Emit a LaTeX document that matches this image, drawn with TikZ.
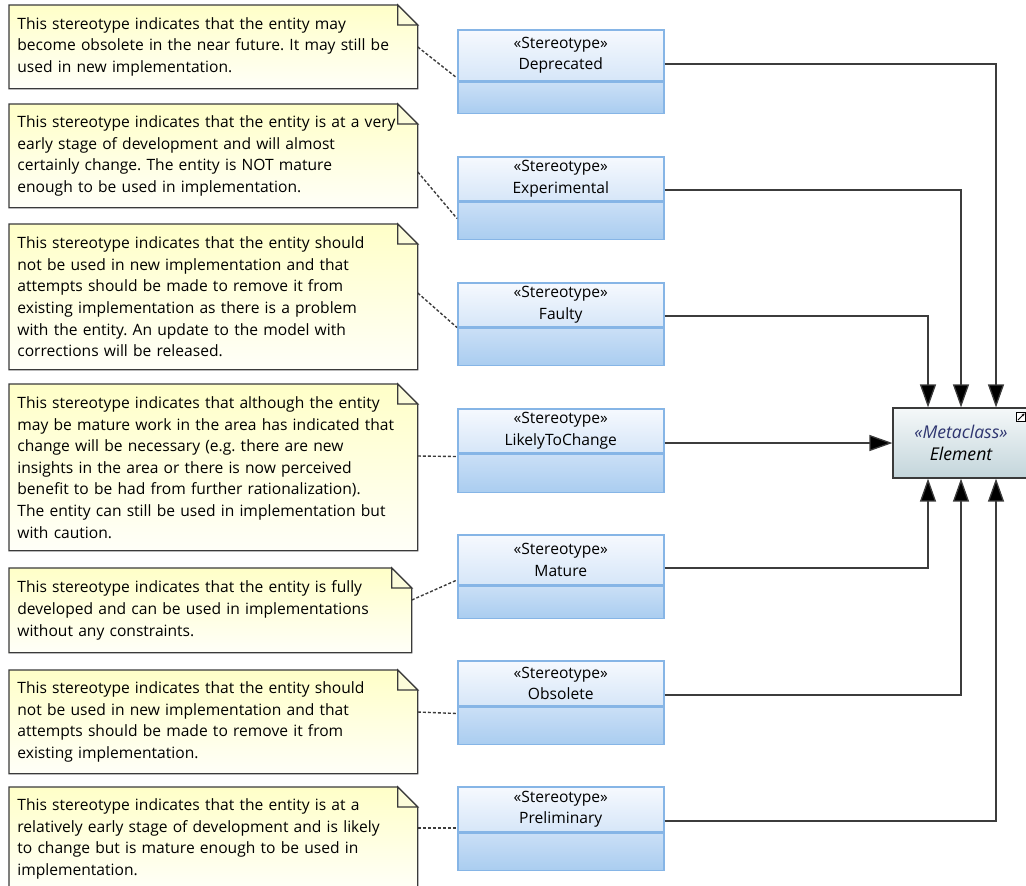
\documentclass[tikz,border=0pt]{standalone}
\usepackage{fontspec}
\setmainfont{Open Sans}
\usetikzlibrary{arrows.meta, positioning}

\definecolor{noteTop}{HTML}{FFFFC8}
\definecolor{noteBot}{HTML}{FFFFF8}
\definecolor{noteFold}{HTML}{FCFCDA}
\definecolor{noteEdge}{HTML}{3A3A3A}
\definecolor{stTop}{HTML}{F6F9FE}
\definecolor{stMid}{HTML}{D6E6F8}
\definecolor{stLow}{HTML}{CADFF6}
\definecolor{stBot}{HTML}{AACDF0}
\definecolor{stEdge}{HTML}{86B5E6}
\definecolor{mcTop}{HTML}{F5F8F9}
\definecolor{mcBot}{HTML}{C3D5DB}
\definecolor{mcText}{HTML}{2E3570}
\definecolor{lineGray}{HTML}{3C3C3C}
\frenchspacing

\begin{document}
\begin{tikzpicture}[
    x=0.5pt, y=-0.5pt,
    >={Triangle[length=11.5pt, width=8pt, fill=black]},
    font=\fontsize{7.8pt}{10.8pt}\selectfont,
    note style/.style={rectangle, anchor=north west, top color=noteTop, bottom color=noteBot,
        inner xsep=4pt, inner ysep=0pt, text width=196pt, align=left, text=black},
    edge style/.style={line width=0.65pt, noteEdge, line join=miter},
    stereo style/.style={rectangle, draw=stEdge, line width=0.75pt, top color=stTop, bottom color=stMid,
        minimum width=103pt, align=center, inner sep=0pt, text=black},
    ops style/.style={rectangle, draw=stEdge, line width=0.75pt, top color=stLow, bottom color=stBot,
        minimum width=103pt, inner sep=0pt},
    meta style/.style={rectangle, draw=noteEdge, line width=0.6pt, top color=mcTop, bottom color=mcBot,
        minimum width=68pt, minimum height=35pt, align=center, font=\fontsize{8.8pt}{11pt}\selectfont\itshape},
    link style/.style={line width=0.65pt, lineGray, ->},
    dashed link style/.style={line width=0.7pt, lineGray, dash pattern=on 1.5pt off 1pt}
]

% Clip to the page
\clip (0,0) rectangle (1026,885);

% Draw the notes
\node[note style, minimum height=41.5pt] (n1) at (9,5) {This stereotype indicates that the entity may\\
become obsolete in the near future. It may still be\\
used in new implementation.};
\node[note style, minimum height=51.5pt] (n2) at (9,104) {This stereotype indicates that the entity is at a very\\
early stage of development and will almost\\
certainly change. The entity is NOT mature\\
enough to be used in implementation.};
\node[note style, minimum height=72.5pt] (n3) at (9,224) {This stereotype indicates that the entity should\\
not be used in new implementation and that\\
attempts should be made to remove it from\\
existing implementation as there is a problem\\
with the entity. An update to the model with\\
corrections will be released.};
\node[note style, minimum height=83pt] (n4) at (9,384) {This stereotype indicates that although the entity\\
may be mature work in the area has indicated that\\
change will be necessary (e.g. there are new\\
insights in the area or there is now perceived\\
benefit to be had from further rationalization).\\
The entity can still be used in implementation but\\
with caution.};
\node[note style, minimum height=42pt, text width=193pt] (n5) at (9,568) {This stereotype indicates that the entity is fully\\
developed and can be used in implementations\\
without any constraints.};
\node[note style, minimum height=51.5pt] (n6) at (9,670) {This stereotype indicates that the entity should\\
not be used in new implementation and that\\
attempts should be made to remove it from\\
existing implementation.};
\node[note style, minimum height=51.5pt] (n7) at (9,787) {This stereotype indicates that the entity is at a\\
relatively early stage of development and is likely\\
to change but is mature enough to be used in\\
implementation.};

% Note borders with the folded corner
\foreach \n in {n1,n2,n3,n4,n5,n6,n7} {
    \fill[white] ([xshift=-10pt]\n.north east) -- (\n.north east) -- ([yshift=-10pt]\n.north east) -- cycle;
    \draw[edge style] (\n.north west) -- ([xshift=-10pt]\n.north east) -- ([yshift=-10pt]\n.north east)
        -- (\n.south east) -- (\n.south west) -- cycle;
    \draw[edge style, fill=noteFold] ([xshift=-10pt]\n.north east) -- ([xshift=-10pt,yshift=-10pt]\n.north east)
        -- ([yshift=-10pt]\n.north east) -- cycle;
}

% Draw the stereotypes
\node[stereo style, anchor=north west, minimum height=25.5pt] (dep) at (457,29) {«Stereotype»\\Deprecated};
\node[ops style, below=0pt of dep, minimum height=15.5pt] (depL) {};
\node[stereo style, anchor=north west, minimum height=22pt] (exp) at (457,156) {«Stereotype»\\Experimental};
\node[ops style, below=0pt of exp, minimum height=18.5pt] (expL) {};
\node[stereo style, anchor=north west, minimum height=22pt] (flt) at (457,282) {«Stereotype»\\Faulty};
\node[ops style, below=0pt of flt, minimum height=18.5pt] (fltL) {};
\node[stereo style, anchor=north west, minimum height=22pt] (lik) at (457,408) {«Stereotype»\\LikelyToChange};
\node[ops style, below=0pt of lik, minimum height=19pt] (likL) {};
\node[stereo style, anchor=north west, minimum height=25pt] (mat) at (457,534) {«Stereotype»\\Mature};
\node[ops style, below=0pt of mat, minimum height=16pt] (matL) {};
\node[stereo style, anchor=north west, minimum height=22.5pt] (obs) at (457,660) {«Stereotype»\\Obsolete};
\node[ops style, below=0pt of obs, minimum height=18.5pt] (obsL) {};
\node[stereo style, anchor=north west, minimum height=22.5pt] (pre) at (457,786) {«Stereotype»\\Preliminary};
\node[ops style, below=0pt of pre, minimum height=18.5pt] (preL) {};

% Draw the metaclass
\node[meta style] (el) at (961,443) {\textcolor{mcText}{«Metaclass»}\\Element};
\node[draw=black, fill=white, line width=0.4pt, inner sep=0pt, minimum size=4.5pt] (lnk) at (1021,417) {};
\draw[line width=0.4pt, -{Stealth[length=1.3pt, width=1.5pt]}] ([xshift=0.9pt,yshift=0.9pt]lnk.south west) -- ([xshift=-0.7pt,yshift=-0.7pt]lnk.north east);

% Note links
\draw[dashed link style] ([yshift=-21pt]n1.north east) -- ([yshift=-24.5pt]dep.north west);
\draw[dashed link style] ([yshift=-34pt]n2.north east) -- ([yshift=-8.5pt]expL.north west);
\draw[dashed link style] ([yshift=-34.5pt]n3.north east) -- (flt.south west);
\draw[dashed link style] ([yshift=-36pt]n4.north east) -- ([yshift=-1.5pt]likL.north west);
\draw[dashed link style] ([yshift=-16pt]n5.north east) -- ([yshift=-23pt]mat.north west);
\draw[dashed link style] ([yshift=-21pt]n6.north east) -- ([yshift=-3.5pt]obsL.north west);
\draw[dashed link style] ([yshift=-20.5pt]n7.north east) -- ([yshift=-21pt]pre.north west);

% Generalizations to the metaclass
\draw[link style] ([yshift=-17.5pt]dep.north east) -| ([xshift=17.5pt]el.north);
\draw[link style] ([yshift=-17pt]exp.north east) -| (el.north);
\draw[link style] ([yshift=-17pt]flt.north east) -| ([xshift=-16.5pt]el.north);
\draw[link style] (el.west -| lik.east) -- (el.west);
\draw[link style] ([yshift=-17pt]mat.north east) -| ([xshift=-16.5pt]el.south);
\draw[link style] ([yshift=-17.5pt]obs.north east) -| (el.south);
\draw[link style] ([yshift=-17.5pt]pre.north east) -| ([xshift=17.5pt]el.south);
\end{tikzpicture}
\end{document}
